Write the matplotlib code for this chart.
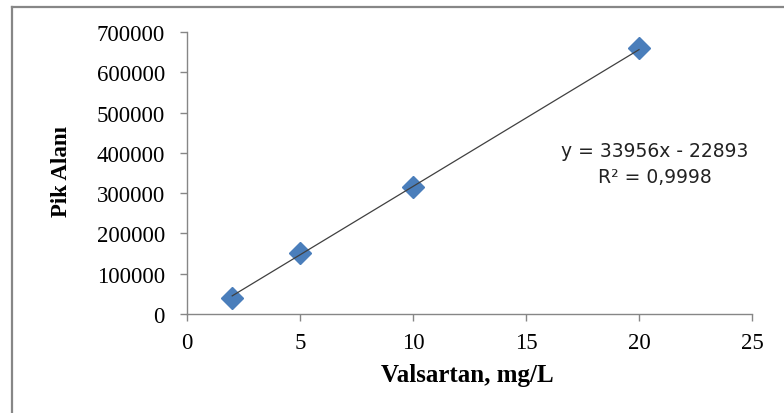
import matplotlib.pyplot as plt
from matplotlib.lines import Line2D
import numpy as np

# data
conc = [2, 5, 10, 20]
area = [40000, 151500, 315500, 660000]
slope = 33956
intercept = -22893
eq_text = 'y = 33956x - 22893'
r2_text = 'R² = 0,9998'

xticks = [0, 5, 10, 15, 20, 25]
yticks = [0, 100000, 200000, 300000, 400000, 500000, 600000, 700000]

fig = plt.figure(figsize=(7.84, 4.14), dpi=100)
ax = fig.add_axes([187 / 784, 1 - 315 / 414, 565 / 784, 282 / 414])

ax.plot(conc, area, linestyle='none', marker='D', markersize=11.5,
        color='#4a7ebb', zorder=2)

# linear trendline
xl = np.array([conc[0], conc[-1]])
ax.plot(xl, slope * xl + intercept, color='#404040', lw=0.9, zorder=3)

ax.set_xlim(0, 25)
ax.set_ylim(0, 700000)
ax.set_xticks(xticks)
ax.set_yticks(yticks)
ax.set_xticklabels([str(t) for t in xticks])
ax.set_yticklabels([str(t) for t in yticks])

for s in ['top', 'right']:
    ax.spines[s].set_visible(False)
for s in ['left', 'bottom']:
    ax.spines[s].set_color('#868686')
    ax.spines[s].set_linewidth(1)
ax.tick_params(direction='out', length=5, color='#868686', width=1,
               labelsize=16.5)
ax.tick_params(axis='x', pad=8)
ax.tick_params(axis='y', pad=11)
for lab in ax.get_xticklabels() + ax.get_yticklabels():
    lab.set_fontfamily('Liberation Serif')

ax.set_xlabel('Valsartan, mg/L', fontfamily='Liberation Serif',
              fontweight='bold', fontsize=18, va='center')
ax.xaxis.set_label_coords(0.497, -0.213)
ax.set_ylabel('Pik Alanı', fontfamily='Liberation Serif',
              fontweight='bold', fontsize=16.5, va='center')
ax.yaxis.set_label_coords(-0.222, 0.51)

# equation label
fig.text(655 / 784, 1 - 157 / 414, eq_text, ha='center', va='baseline',
         fontfamily='DejaVu Sans', fontsize=13.5, color='#222222')
fig.text(655 / 784, 1 - 183 / 414, r2_text, ha='center', va='baseline',
         fontfamily='DejaVu Sans', fontsize=13.5, color='#222222')

# chart area border (top and left edges visible)
fig.add_artist(Line2D([12 / 784, 1], [1 - 8 / 414, 1 - 8 / 414],
                      transform=fig.transFigure, color='#878787', lw=1.6))
fig.add_artist(Line2D([12 / 784, 12 / 784], [0, 1 - 8 / 414],
                      transform=fig.transFigure, color='#878787', lw=1.6))

fig.savefig('out.png', dpi=100)
